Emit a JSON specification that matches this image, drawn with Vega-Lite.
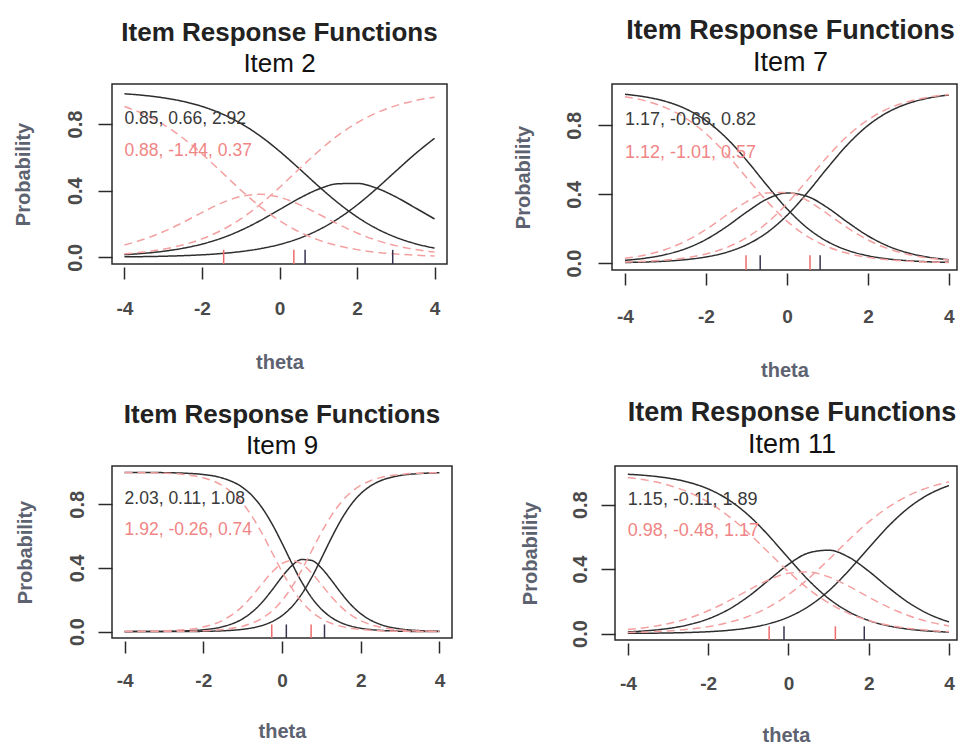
{
  "$schema": "https://vega.github.io/schema/vega-lite/v6.json",
  "background": "white",
  "padding": {"left": 12, "top": 16, "right": 0, "bottom": 0},
  "datasets": {
    "curves": [
      {"item":2,"model":"black","theta":-4,"p0":0.9813,"p1":0.0159,"p2":0.0028},
      {"item":2,"model":"black","theta":-3.5,"p0":0.9717,"p1":0.0240,"p2":0.0043},
      {"item":2,"model":"black","theta":-3,"p0":0.9573,"p1":0.0362,"p2":0.0065},
      {"item":2,"model":"black","theta":-2.5,"p0":0.9362,"p1":0.0539,"p2":0.0099},
      {"item":2,"model":"black","theta":-2,"p0":0.9056,"p1":0.0794,"p2":0.0150},
      {"item":2,"model":"black","theta":-1.5,"p0":0.8625,"p1":0.1147,"p2":0.0228},
      {"item":2,"model":"black","theta":-1,"p0":0.8039,"p1":0.1616,"p2":0.0345},
      {"item":2,"model":"black","theta":-0.5,"p0":0.7283,"p1":0.2199,"p2":0.0518},
      {"item":2,"model":"black","theta":0,"p0":0.6367,"p1":0.2862,"p2":0.0771},
      {"item":2,"model":"black","theta":0.5,"p0":0.5340,"p1":0.3527,"p2":0.1133},
      {"item":2,"model":"black","theta":1,"p0":0.4282,"p1":0.4082,"p2":0.1636},
      {"item":2,"model":"black","theta":1.5,"p0":0.3287,"p1":0.4411,"p2":0.2302},
      {"item":2,"model":"black","theta":2,"p0":0.2425,"p1":0.4436,"p2":0.3139},
      {"item":2,"model":"black","theta":2.5,"p0":0.1730,"p1":0.4153,"p2":0.4117},
      {"item":2,"model":"black","theta":3,"p0":0.1203,"p1":0.3627,"p2":0.5170},
      {"item":2,"model":"black","theta":3.5,"p0":0.0821,"p1":0.2971,"p2":0.6208},
      {"item":2,"model":"black","theta":4,"p0":0.0552,"p1":0.2302,"p2":0.7146},
      {"item":2,"model":"pink","theta":-4,"p0":0.9049,"p1":0.0742,"p2":0.0209},
      {"item":2,"model":"pink","theta":-3.5,"p0":0.8597,"p1":0.1082,"p2":0.0321},
      {"item":2,"model":"pink","theta":-3,"p0":0.7978,"p1":0.1532,"p2":0.0490},
      {"item":2,"model":"pink","theta":-2.5,"p0":0.7176,"p1":0.2083,"p2":0.0741},
      {"item":2,"model":"pink","theta":-2,"p0":0.6208,"p1":0.2687,"p2":0.1105},
      {"item":2,"model":"pink","theta":-1.5,"p0":0.5132,"p1":0.3251,"p2":0.1617},
      {"item":2,"model":"pink","theta":-1,"p0":0.4044,"p1":0.3651,"p2":0.2305},
      {"item":2,"model":"pink","theta":-0.5,"p0":0.3043,"p1":0.3783,"p2":0.3174},
      {"item":2,"model":"pink","theta":0,"p0":0.2197,"p1":0.3610,"p2":0.4193},
      {"item":2,"model":"pink","theta":0.5,"p0":0.1536,"p1":0.3178,"p2":0.5286},
      {"item":2,"model":"pink","theta":1,"p0":0.1046,"p1":0.2602,"p2":0.6352},
      {"item":2,"model":"pink","theta":1.5,"p0":0.0699,"p1":0.2001,"p2":0.7300},
      {"item":2,"model":"pink","theta":2,"p0":0.0463,"p1":0.1461,"p2":0.8076},
      {"item":2,"model":"pink","theta":2.5,"p0":0.0303,"p1":0.1027,"p2":0.8670},
      {"item":2,"model":"pink","theta":3,"p0":0.0197,"p1":0.0702,"p2":0.9101},
      {"item":2,"model":"pink","theta":3.5,"p0":0.0128,"p1":0.0470,"p2":0.9402},
      {"item":2,"model":"pink","theta":4,"p0":0.0083,"p1":0.0311,"p2":0.9606},
      {"item":7,"model":"black","theta":-4,"p0":0.9803,"p1":0.0162,"p2":0.0035},
      {"item":7,"model":"black","theta":-3.5,"p0":0.9652,"p1":0.0285,"p2":0.0063},
      {"item":7,"model":"black","theta":-3,"p0":0.9392,"p1":0.0495,"p2":0.0113},
      {"item":7,"model":"black","theta":-2.5,"p0":0.8959,"p1":0.0839,"p2":0.0202},
      {"item":7,"model":"black","theta":-2,"p0":0.8275,"p1":0.1369,"p2":0.0356},
      {"item":7,"model":"black","theta":-1.5,"p0":0.7277,"p1":0.2102,"p2":0.0621},
      {"item":7,"model":"black","theta":-1,"p0":0.5982,"p1":0.2955,"p2":0.1063},
      {"item":7,"model":"black","theta":-0.5,"p0":0.4533,"p1":0.3708,"p2":0.1759},
      {"item":7,"model":"black","theta":0,"p0":0.3160,"p1":0.4070,"p2":0.2770},
      {"item":7,"model":"black","theta":0.5,"p0":0.2047,"p1":0.3878,"p2":0.4075},
      {"item":7,"model":"black","theta":1,"p0":0.1254,"p1":0.3221,"p2":0.5525},
      {"item":7,"model":"black","theta":1.5,"p0":0.0740,"p1":0.2370,"p2":0.6890},
      {"item":7,"model":"black","theta":2,"p0":0.0426,"p1":0.1583,"p2":0.7991},
      {"item":7,"model":"black","theta":2.5,"p0":0.0242,"p1":0.0987,"p2":0.8771},
      {"item":7,"model":"black","theta":3,"p0":0.0136,"p1":0.0588,"p2":0.9276},
      {"item":7,"model":"black","theta":3.5,"p0":0.0076,"p1":0.0341,"p2":0.9583},
      {"item":7,"model":"black","theta":4,"p0":0.0043,"p1":0.0193,"p2":0.9764},
      {"item":7,"model":"pink","theta":-4,"p0":0.9661,"p1":0.0279,"p2":0.0060},
      {"item":7,"model":"pink","theta":-3.5,"p0":0.9421,"p1":0.0475,"p2":0.0104},
      {"item":7,"model":"pink","theta":-3,"p0":0.9028,"p1":0.0792,"p2":0.0180},
      {"item":7,"model":"pink","theta":-2.5,"p0":0.8414,"p1":0.1275,"p2":0.0311},
      {"item":7,"model":"pink","theta":-2,"p0":0.7519,"p1":0.1949,"p2":0.0532},
      {"item":7,"model":"pink","theta":-1.5,"p0":0.6339,"p1":0.2765,"p2":0.0896},
      {"item":7,"model":"pink","theta":-1,"p0":0.4972,"p1":0.3558,"p2":0.1470},
      {"item":7,"model":"pink","theta":-0.5,"p0":0.3609,"p1":0.4073,"p2":0.2318},
      {"item":7,"model":"pink","theta":0,"p0":0.2439,"p1":0.4105,"p2":0.3456},
      {"item":7,"model":"pink","theta":0.5,"p0":0.1556,"p1":0.3640,"p2":0.4804},
      {"item":7,"model":"pink","theta":1,"p0":0.0953,"p1":0.2866,"p2":0.6181},
      {"item":7,"model":"pink","theta":1.5,"p0":0.0567,"p1":0.2041,"p2":0.7392},
      {"item":7,"model":"pink","theta":2,"p0":0.0333,"p1":0.1345,"p2":0.8322},
      {"item":7,"model":"pink","theta":2.5,"p0":0.0192,"p1":0.0840,"p2":0.8968},
      {"item":7,"model":"pink","theta":3,"p0":0.0111,"p1":0.0506,"p2":0.9383},
      {"item":7,"model":"pink","theta":3.5,"p0":0.0064,"p1":0.0298,"p2":0.9638},
      {"item":7,"model":"pink","theta":4,"p0":0.0036,"p1":0.0174,"p2":0.9790},
      {"item":9,"model":"black","theta":-4,"p0":0.9998,"p1":0.0002,"p2":0.0000},
      {"item":9,"model":"black","theta":-3.5,"p0":0.9993,"p1":0.0006,"p2":0.0001},
      {"item":9,"model":"black","theta":-3,"p0":0.9982,"p1":0.0016,"p2":0.0003},
      {"item":9,"model":"black","theta":-2.5,"p0":0.9950,"p1":0.0043,"p2":0.0007},
      {"item":9,"model":"black","theta":-2,"p0":0.9864,"p1":0.0117,"p2":0.0019},
      {"item":9,"model":"black","theta":-1.5,"p0":0.9633,"p1":0.0314,"p2":0.0053},
      {"item":9,"model":"black","theta":-1,"p0":0.9049,"p1":0.0806,"p2":0.0145},
      {"item":9,"model":"black","theta":-0.75,"p0":0.8514,"p1":0.1248,"p2":0.0238},
      {"item":9,"model":"black","theta":-0.5,"p0":0.7753,"p1":0.1858,"p2":0.0389},
      {"item":9,"model":"black","theta":-0.25,"p0":0.6750,"p1":0.2620,"p2":0.0630},
      {"item":9,"model":"black","theta":0,"p0":0.5556,"p1":0.3440,"p2":0.1004},
      {"item":9,"model":"black","theta":0.25,"p0":0.4294,"p1":0.4142,"p2":0.1564},
      {"item":9,"model":"black","theta":0.5,"p0":0.3118,"p1":0.4527,"p2":0.2355},
      {"item":9,"model":"black","theta":0.75,"p0":0.2143,"p1":0.4472,"p2":0.3385},
      {"item":9,"model":"black","theta":1,"p0":0.1410,"p1":0.3995,"p2":0.4595},
      {"item":9,"model":"black","theta":1.25,"p0":0.0899,"p1":0.3247,"p2":0.5854},
      {"item":9,"model":"black","theta":1.5,"p0":0.0561,"p1":0.2428,"p2":0.7011},
      {"item":9,"model":"black","theta":1.75,"p0":0.0346,"p1":0.1696,"p2":0.7958},
      {"item":9,"model":"black","theta":2,"p0":0.0211,"p1":0.1127,"p2":0.8662},
      {"item":9,"model":"black","theta":2.25,"p0":0.0128,"p1":0.0723,"p2":0.9149},
      {"item":9,"model":"black","theta":2.5,"p0":0.0078,"p1":0.0452,"p2":0.9470},
      {"item":9,"model":"black","theta":3,"p0":0.0028,"p1":0.0171,"p2":0.9801},
      {"item":9,"model":"black","theta":3.5,"p0":0.0010,"p1":0.0063,"p2":0.9927},
      {"item":9,"model":"black","theta":4,"p0":0.0004,"p1":0.0023,"p2":0.9973},
      {"item":9,"model":"pink","theta":-4,"p0":0.9992,"p1":0.0007,"p2":0.0001},
      {"item":9,"model":"pink","theta":-3.5,"p0":0.9980,"p1":0.0017,"p2":0.0003},
      {"item":9,"model":"pink","theta":-3,"p0":0.9948,"p1":0.0044,"p2":0.0008},
      {"item":9,"model":"pink","theta":-2.5,"p0":0.9866,"p1":0.0114,"p2":0.0020},
      {"item":9,"model":"pink","theta":-2,"p0":0.9658,"p1":0.0290,"p2":0.0052},
      {"item":9,"model":"pink","theta":-1.5,"p0":0.9153,"p1":0.0713,"p2":0.0134},
      {"item":9,"model":"pink","theta":-1,"p0":0.8055,"p1":0.1603,"p2":0.0342},
      {"item":9,"model":"pink","theta":-0.75,"p0":0.7193,"p1":0.2266,"p2":0.0541},
      {"item":9,"model":"pink","theta":-0.5,"p0":0.6132,"p1":0.3021,"p2":0.0847},
      {"item":9,"model":"pink","theta":-0.25,"p0":0.4952,"p1":0.3748,"p2":0.1300},
      {"item":9,"model":"pink","theta":0,"p0":0.3777,"p1":0.4278,"p2":0.1945},
      {"item":9,"model":"pink","theta":0.25,"p0":0.2730,"p1":0.4463,"p2":0.2807},
      {"item":9,"model":"pink","theta":0.5,"p0":0.1886,"p1":0.4246,"p2":0.3868},
      {"item":9,"model":"pink","theta":0.75,"p0":0.1257,"p1":0.3695,"p2":0.5048},
      {"item":9,"model":"pink","theta":1,"p0":0.0817,"p1":0.2960,"p2":0.6223},
      {"item":9,"model":"pink","theta":1.25,"p0":0.0522,"p1":0.2208,"p2":0.7270},
      {"item":9,"model":"pink","theta":1.5,"p0":0.0330,"p1":0.1556,"p2":0.8114},
      {"item":9,"model":"pink","theta":1.75,"p0":0.0207,"p1":0.1050,"p2":0.8743},
      {"item":9,"model":"pink","theta":2,"p0":0.0129,"p1":0.0688,"p2":0.9183},
      {"item":9,"model":"pink","theta":2.25,"p0":0.0080,"p1":0.0442,"p2":0.9478},
      {"item":9,"model":"pink","theta":2.5,"p0":0.0050,"p1":0.0280,"p2":0.9670},
      {"item":9,"model":"pink","theta":3,"p0":0.0019,"p1":0.0110,"p2":0.9871},
      {"item":9,"model":"pink","theta":3.5,"p0":0.0007,"p1":0.0043,"p2":0.9950},
      {"item":9,"model":"pink","theta":4,"p0":0.0003,"p1":0.0016,"p2":0.9981},
      {"item":11,"model":"black","theta":-4,"p0":0.9887,"p1":0.0102,"p2":0.0011},
      {"item":11,"model":"black","theta":-3.5,"p0":0.9801,"p1":0.0179,"p2":0.0020},
      {"item":11,"model":"black","theta":-3,"p0":0.9652,"p1":0.0312,"p2":0.0036},
      {"item":11,"model":"black","theta":-2.5,"p0":0.9398,"p1":0.0538,"p2":0.0064},
      {"item":11,"model":"black","theta":-2,"p0":0.8978,"p1":0.0909,"p2":0.0113},
      {"item":11,"model":"black","theta":-1.5,"p0":0.8318,"p1":0.1483,"p2":0.0199},
      {"item":11,"model":"black","theta":-1,"p0":0.7357,"p1":0.2295,"p2":0.0348},
      {"item":11,"model":"black","theta":-0.5,"p0":0.6103,"p1":0.3295,"p2":0.0602},
      {"item":11,"model":"black","theta":0,"p0":0.4684,"p1":0.4294,"p2":0.1022},
      {"item":11,"model":"black","theta":0.5,"p0":0.3315,"p1":0.5003,"p2":0.1682},
      {"item":11,"model":"black","theta":1,"p0":0.2181,"p1":0.5176,"p2":0.2643},
      {"item":11,"model":"black","theta":1.5,"p0":0.1357,"p1":0.4746,"p2":0.3897},
      {"item":11,"model":"black","theta":2,"p0":0.0811,"p1":0.3873,"p2":0.5316},
      {"item":11,"model":"black","theta":2.5,"p0":0.0474,"p1":0.2841,"p2":0.6685},
      {"item":11,"model":"black","theta":3,"p0":0.0272,"p1":0.1909,"p2":0.7819},
      {"item":11,"model":"black","theta":3.5,"p0":0.0155,"p1":0.1202,"p2":0.8643},
      {"item":11,"model":"black","theta":4,"p0":0.0088,"p1":0.0723,"p2":0.9189},
      {"item":11,"model":"pink","theta":-4,"p0":0.9692,"p1":0.0245,"p2":0.0063},
      {"item":11,"model":"pink","theta":-3.5,"p0":0.9507,"p1":0.0391,"p2":0.0102},
      {"item":11,"model":"pink","theta":-3,"p0":0.9220,"p1":0.0615,"p2":0.0165},
      {"item":11,"model":"pink","theta":-2.5,"p0":0.8786,"p1":0.0947,"p2":0.0267},
      {"item":11,"model":"pink","theta":-2,"p0":0.8160,"p1":0.1412,"p2":0.0428},
      {"item":11,"model":"pink","theta":-1.5,"p0":0.7310,"p1":0.2009,"p2":0.0681},
      {"item":11,"model":"pink","theta":-1,"p0":0.6247,"p1":0.2688,"p2":0.1065},
      {"item":11,"model":"pink","theta":-0.5,"p0":0.5049,"p1":0.3322,"p2":0.1629},
      {"item":11,"model":"pink","theta":0,"p0":0.3845,"p1":0.3744,"p2":0.2411},
      {"item":11,"model":"pink","theta":0.5,"p0":0.2768,"p1":0.3817,"p2":0.3415},
      {"item":11,"model":"pink","theta":1,"p0":0.1900,"p1":0.3516,"p2":0.4584},
      {"item":11,"model":"pink","theta":1.5,"p0":0.1256,"p1":0.2943,"p2":0.5801},
      {"item":11,"model":"pink","theta":2,"p0":0.0809,"p1":0.2262,"p2":0.6929},
      {"item":11,"model":"pink","theta":2.5,"p0":0.0511,"p1":0.1625,"p2":0.7864},
      {"item":11,"model":"pink","theta":3,"p0":0.0320,"p1":0.1106,"p2":0.8574},
      {"item":11,"model":"pink","theta":3.5,"p0":0.0198,"p1":0.0727,"p2":0.9075},
      {"item":11,"model":"pink","theta":4,"p0":0.0122,"p1":0.0465,"p2":0.9413}
    ],
    "thresholds": [
      {"item":2,"model":"black","b":0.66},{"item":2,"model":"black","b":2.92},
      {"item":2,"model":"pink","b":-1.44},{"item":2,"model":"pink","b":0.37},
      {"item":7,"model":"black","b":-0.66},{"item":7,"model":"black","b":0.82},
      {"item":7,"model":"pink","b":-1.01},{"item":7,"model":"pink","b":0.57},
      {"item":9,"model":"black","b":0.11},{"item":9,"model":"black","b":1.08},
      {"item":9,"model":"pink","b":-0.26},{"item":9,"model":"pink","b":0.74},
      {"item":11,"model":"black","b":-0.11},{"item":11,"model":"black","b":1.89},
      {"item":11,"model":"pink","b":-0.48},{"item":11,"model":"pink","b":1.17}
    ],
    "labels": [
      {"item":2,"model":"black","label":"0.85, 0.66, 2.92"},
      {"item":2,"model":"pink","label":"0.88, -1.44, 0.37"},
      {"item":7,"model":"black","label":"1.17, -0.66, 0.82"},
      {"item":7,"model":"pink","label":"1.12, -1.01, 0.57"},
      {"item":9,"model":"black","label":"2.03, 0.11, 1.08"},
      {"item":9,"model":"pink","label":"1.92, -0.26, 0.74"},
      {"item":11,"model":"black","label":"1.15, -0.11, 1.89"},
      {"item":11,"model":"pink","label":"0.98, -0.48, 1.17"}
    ]
  },
  "spacing": 17,
  "vconcat": [
    {
      "spacing": 64,
      "hconcat": [
        {
          "width": 335, "height": 180,
          "title": {"text": "Item Response Functions", "subtitle": "Item 2"},
          "layer": [
            {
              "data": {"name": "curves"},
              "transform": [{"filter": "datum.item == 2"}, {"fold": ["p0", "p1", "p2"], "as": ["cat", "prob"]}],
              "mark": {"type": "line", "strokeWidth": 1.5, "interpolate": "monotone"},
              "encoding": {
                "x": {"field": "theta", "type": "quantitative", "scale": {"domain": [-4.32, 4.32], "nice": false, "zero": false},
                  "axis": {"values": [-4, -2, 0, 2, 4], "labelExpr": "datum.value < 0 ? '-' + abs(datum.value) : '' + datum.value", "labelPadding": 35, "title": "theta", "titleY": 101, "titleBaseline": "alphabetic"}},
                "y": {"field": "prob", "type": "quantitative", "scale": {"domain": [-0.04, 1.04], "nice": false, "zero": false},
                  "axis": {"values": [0, 0.2, 0.4, 0.6, 0.8, 1], "labelExpr": "abs(datum.value) < 0.01 || abs(datum.value - 0.4) < 0.01 || abs(datum.value - 0.8) < 0.01 ? format(datum.value, '.1f') : ''", "labelPadding": 17, "title": "Probability", "titleX": -83, "titleBaseline": "alphabetic"}},
                "detail": {"field": "cat"},
                "color": {"field": "model", "type": "nominal", "scale": {"domain": ["black", "pink"], "range": ["#2e2e2e", "#f4a0a0"]}, "legend": null},
                "strokeDash": {"field": "model", "type": "nominal", "scale": {"domain": ["black", "pink"], "range": [[1, 0], [8, 5]]}, "legend": null}
              }
            },
            {
              "data": {"name": "thresholds"},
              "transform": [{"filter": "datum.item == 2"}],
              "mark": {"type": "rule", "strokeWidth": 1.5},
              "encoding": {
                "x": {"field": "b", "type": "quantitative"},
                "y": {"datum": -0.04}, "y2": {"datum": 0.045},
                "color": {"condition": {"test": "datum.model == 'pink'", "value": "#ee6c6c"}, "value": "#3a3350"}
              }
            },
            {
              "data": {"name": "labels"},
              "transform": [{"filter": "datum.item == 2 && datum.model == 'black'"}],
              "mark": {"type": "text", "align": "left", "baseline": "middle", "fontSize": 17.5, "color": "#3a3a3a"},
              "encoding": {"x": {"datum": -4}, "y": {"datum": 0.83}, "text": {"field": "label"}}
            },
            {
              "data": {"name": "labels"},
              "transform": [{"filter": "datum.item == 2 && datum.model == 'pink'"}],
              "mark": {"type": "text", "align": "left", "baseline": "middle", "fontSize": 17.5, "color": "#f08585"},
              "encoding": {"x": {"datum": -4}, "y": {"datum": 0.637}, "text": {"field": "label"}}
            }
          ]
        },
        {
          "width": 345, "height": 186,
          "title": {"text": "Item Response Functions", "subtitle": "Item 7", "fontSize": 27, "subtitleFontSize": 27, "dx": 6},
          "layer": [
            {
              "data": {"name": "curves"},
              "transform": [{"filter": "datum.item == 7"}, {"fold": ["p0", "p1", "p2"], "as": ["cat", "prob"]}],
              "mark": {"type": "line", "strokeWidth": 1.5, "interpolate": "monotone"},
              "encoding": {
                "x": {"field": "theta", "type": "quantitative", "scale": {"domain": [-4.32, 4.2], "nice": false, "zero": false},
                  "axis": {"values": [-4, -2, 0, 2, 4], "labelExpr": "datum.value < 0 ? '-' + abs(datum.value) : '' + datum.value", "labelPadding": 37, "title": "theta", "titleY": 103, "titleBaseline": "alphabetic"}},
                "y": {"field": "prob", "type": "quantitative", "scale": {"domain": [-0.04, 1.04], "nice": false, "zero": false},
                  "axis": {"values": [0, 0.2, 0.4, 0.6, 0.8, 1], "labelExpr": "abs(datum.value) < 0.01 || abs(datum.value - 0.4) < 0.01 || abs(datum.value - 0.8) < 0.01 ? format(datum.value, '.1f') : ''", "labelPadding": 18, "title": "Probability", "titleX": -83, "titleBaseline": "alphabetic"}},
                "detail": {"field": "cat"},
                "color": {"field": "model", "type": "nominal", "scale": {"domain": ["black", "pink"], "range": ["#2e2e2e", "#f4a0a0"]}, "legend": null},
                "strokeDash": {"field": "model", "type": "nominal", "scale": {"domain": ["black", "pink"], "range": [[1, 0], [8, 5]]}, "legend": null}
              }
            },
            {
              "data": {"name": "thresholds"},
              "transform": [{"filter": "datum.item == 7"}],
              "mark": {"type": "rule", "strokeWidth": 1.5},
              "encoding": {
                "x": {"field": "b", "type": "quantitative"},
                "y": {"datum": -0.04}, "y2": {"datum": 0.045},
                "color": {"condition": {"test": "datum.model == 'pink'", "value": "#ee6c6c"}, "value": "#3a3350"}
              }
            },
            {
              "data": {"name": "labels"},
              "transform": [{"filter": "datum.item == 7 && datum.model == 'black'"}],
              "mark": {"type": "text", "align": "left", "baseline": "middle", "fontSize": 18, "color": "#3a3a3a"},
              "encoding": {"x": {"datum": -4}, "y": {"datum": 0.83}, "text": {"field": "label"}}
            },
            {
              "data": {"name": "labels"},
              "transform": [{"filter": "datum.item == 7 && datum.model == 'pink'"}],
              "mark": {"type": "text", "align": "left", "baseline": "middle", "fontSize": 18, "color": "#f08585"},
              "encoding": {"x": {"datum": -4}, "y": {"datum": 0.637}, "text": {"field": "label"}}
            }
          ]
        }
      ]
    },
    {
      "spacing": 66,
      "hconcat": [
        {
          "width": 340, "height": 172,
          "title": {"text": "Item Response Functions", "subtitle": "Item 9"},
          "layer": [
            {
              "data": {"name": "curves"},
              "transform": [{"filter": "datum.item == 9"}, {"fold": ["p0", "p1", "p2"], "as": ["cat", "prob"]}],
              "mark": {"type": "line", "strokeWidth": 1.5, "interpolate": "monotone"},
              "encoding": {
                "x": {"field": "theta", "type": "quantitative", "scale": {"domain": [-4.32, 4.32], "nice": false, "zero": false},
                  "axis": {"values": [-4, -2, 0, 2, 4], "labelExpr": "datum.value < 0 ? '-' + abs(datum.value) : '' + datum.value", "labelPadding": 33, "title": "theta", "titleY": 96, "titleBaseline": "alphabetic"}},
                "y": {"field": "prob", "type": "quantitative", "scale": {"domain": [-0.04, 1.04], "nice": false, "zero": false},
                  "axis": {"values": [0, 0.2, 0.4, 0.6, 0.8, 1], "labelExpr": "abs(datum.value) < 0.01 || abs(datum.value - 0.4) < 0.01 || abs(datum.value - 0.8) < 0.01 ? format(datum.value, '.1f') : ''", "labelPadding": 15, "title": "Probability", "titleX": -81, "titleBaseline": "alphabetic"}},
                "detail": {"field": "cat"},
                "color": {"field": "model", "type": "nominal", "scale": {"domain": ["black", "pink"], "range": ["#2e2e2e", "#f4a0a0"]}, "legend": null},
                "strokeDash": {"field": "model", "type": "nominal", "scale": {"domain": ["black", "pink"], "range": [[1, 0], [8, 5]]}, "legend": null}
              }
            },
            {
              "data": {"name": "thresholds"},
              "transform": [{"filter": "datum.item == 9"}],
              "mark": {"type": "rule", "strokeWidth": 1.5},
              "encoding": {
                "x": {"field": "b", "type": "quantitative"},
                "y": {"datum": -0.04}, "y2": {"datum": 0.045},
                "color": {"condition": {"test": "datum.model == 'pink'", "value": "#ee6c6c"}, "value": "#3a3350"}
              }
            },
            {
              "data": {"name": "labels"},
              "transform": [{"filter": "datum.item == 9 && datum.model == 'black'"}],
              "mark": {"type": "text", "align": "left", "baseline": "middle", "fontSize": 17.5, "color": "#3a3a3a"},
              "encoding": {"x": {"datum": -4}, "y": {"datum": 0.83}, "text": {"field": "label"}}
            },
            {
              "data": {"name": "labels"},
              "transform": [{"filter": "datum.item == 9 && datum.model == 'pink'"}],
              "mark": {"type": "text", "align": "left", "baseline": "middle", "fontSize": 17.5, "color": "#f08585"},
              "encoding": {"x": {"datum": -4}, "y": {"datum": 0.637}, "text": {"field": "label"}}
            }
          ]
        },
        {
          "width": 342, "height": 174,
          "title": {"text": "Item Response Functions", "subtitle": "Item 11", "fontSize": 27, "subtitleFontSize": 27, "dx": 6},
          "layer": [
            {
              "data": {"name": "curves"},
              "transform": [{"filter": "datum.item == 11"}, {"fold": ["p0", "p1", "p2"], "as": ["cat", "prob"]}],
              "mark": {"type": "line", "strokeWidth": 1.5, "interpolate": "monotone"},
              "encoding": {
                "x": {"field": "theta", "type": "quantitative", "scale": {"domain": [-4.32, 4.2], "nice": false, "zero": false},
                  "axis": {"values": [-4, -2, 0, 2, 4], "labelExpr": "datum.value < 0 ? '-' + abs(datum.value) : '' + datum.value", "labelPadding": 34, "title": "theta", "titleY": 98, "titleBaseline": "alphabetic"}},
                "y": {"field": "prob", "type": "quantitative", "scale": {"domain": [-0.04, 1.04], "nice": false, "zero": false},
                  "axis": {"values": [0, 0.2, 0.4, 0.6, 0.8, 1], "labelExpr": "abs(datum.value) < 0.01 || abs(datum.value - 0.4) < 0.01 || abs(datum.value - 0.8) < 0.01 ? format(datum.value, '.1f') : ''", "labelPadding": 15, "title": "Probability", "titleX": -79, "titleBaseline": "alphabetic"}},
                "detail": {"field": "cat"},
                "color": {"field": "model", "type": "nominal", "scale": {"domain": ["black", "pink"], "range": ["#2e2e2e", "#f4a0a0"]}, "legend": null},
                "strokeDash": {"field": "model", "type": "nominal", "scale": {"domain": ["black", "pink"], "range": [[1, 0], [8, 5]]}, "legend": null}
              }
            },
            {
              "data": {"name": "thresholds"},
              "transform": [{"filter": "datum.item == 11"}],
              "mark": {"type": "rule", "strokeWidth": 1.5},
              "encoding": {
                "x": {"field": "b", "type": "quantitative"},
                "y": {"datum": -0.04}, "y2": {"datum": 0.045},
                "color": {"condition": {"test": "datum.model == 'pink'", "value": "#ee6c6c"}, "value": "#3a3350"}
              }
            },
            {
              "data": {"name": "labels"},
              "transform": [{"filter": "datum.item == 11 && datum.model == 'black'"}],
              "mark": {"type": "text", "align": "left", "baseline": "middle", "fontSize": 18, "color": "#3a3a3a"},
              "encoding": {"x": {"datum": -4}, "y": {"datum": 0.83}, "text": {"field": "label"}}
            },
            {
              "data": {"name": "labels"},
              "transform": [{"filter": "datum.item == 11 && datum.model == 'pink'"}],
              "mark": {"type": "text", "align": "left", "baseline": "middle", "fontSize": 18, "color": "#f08585"},
              "encoding": {"x": {"datum": -4}, "y": {"datum": 0.637}, "text": {"field": "label"}}
            }
          ]
        }
      ]
    }
  ],
  "config": {
    "font": "Liberation Sans",
    "view": {"stroke": "#2a2a2a", "strokeWidth": 1.5},
    "text": {"font": "Liberation Sans"},
    "axis": {
      "domain": false, "grid": false,
      "tickColor": "#2a2a2a", "tickWidth": 1.5,
      "labelFont": "Liberation Sans", "labelFontWeight": "bold", "labelColor": "#4a4a4a",
      "titleFont": "Liberation Sans", "titleFontSize": 20, "titleFontWeight": "bold", "titleColor": "#5d6270",
      "labelOverlap": false, "labelFlush": false
    },
    "axisX": {"tickSize": 12, "offset": 3, "labelFontSize": 19, "labelBaseline": "alphabetic"},
    "axisY": {"tickSize": 14, "labelFontSize": 20, "labelAngle": -90, "labelAlign": "center", "labelBaseline": "alphabetic"},
    "title": {
      "font": "Liberation Sans", "fontSize": 26, "fontWeight": "bold", "color": "#222222",
      "subtitleFont": "Liberation Sans", "subtitleFontSize": 26, "subtitleFontWeight": "normal", "subtitleColor": "#111111",
      "anchor": "middle", "frame": "group", "offset": 7, "subtitlePadding": 5
    }
  }
}
